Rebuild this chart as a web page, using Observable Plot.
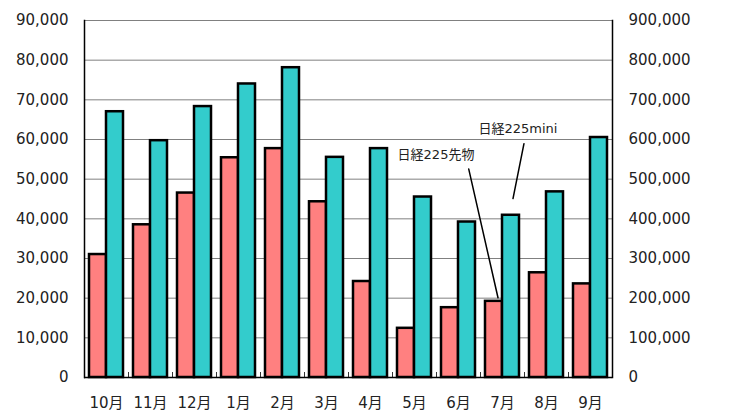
<!DOCTYPE html>
<html>
<head>
<meta charset="utf-8">
<script src="https://cdn.jsdelivr.net/npm/d3@7"></script>
<script src="https://cdn.jsdelivr.net/npm/@observablehq/plot@0.6"></script>
<style>
  body { margin: 0; background: #fff; }
</style>
</head>
<body>
<div id="chart"></div>
<script>
const months = ["10月","11月","12月","1月","2月","3月","4月","5月","6月","7月","8月","9月"];
const seriesNames = ["日経225先物", "日経225mini"];
const futures = [31000, 38500, 46500, 55400, 57700, 44300, 24200, 12400, 17600, 19200, 26400, 23600];
const mini = [670000, 597000, 683000, 740000, 781000, 555000, 577000, 455000, 392000, 409000, 468000, 605000];
const leftTicks = [0, 10000, 20000, 30000, 40000, 50000, 60000, 70000, 80000, 90000];
const ratio = 10; // right axis = left axis × 10

const rows = [];
months.forEach((m, i) => {
  rows.push({month: m, series: seriesNames[0], value: futures[i], y: futures[i]});
  rows.push({month: m, series: seriesNames[1], value: mini[i], y: mini[i] / ratio});
});

const annotations = [
  {month: "7月", series: seriesNames[0], label: "日経225先物"},
  {month: "7月", series: seriesNames[1], label: "日経225mini"}
];
const fut7 = futures[months.indexOf("7月")];
const mini7 = mini[months.indexOf("7月")] / ratio;

const fmt = d3.format(",");
const font = "'DejaVu Sans', Verdana, 'Noto Sans CJK JP', sans-serif";

const chart = Plot.plot({
  width: 737,
  height: 411,
  marginTop: 20,
  marginBottom: 34,
  marginLeft: 83,
  marginRight: 124,
  style: {fontFamily: font, fontSize: "15px", color: "#222", background: "#fff"},
  fx: {domain: months, padding: 0, label: null},
  x: {domain: seriesNames, paddingInner: 0, paddingOuter: 0.25, axis: null},
  y: {domain: [0, 90000], label: null},
  color: {domain: seriesNames, range: ["#FF8080", "#33CCCC"]},
  marks: [
    Plot.gridY(leftTicks, {stroke: "#808080", strokeOpacity: 1, strokeWidth: 1}),
    Plot.barY(rows, {fx: "month", x: "series", y: "y", fill: "series", stroke: "black", strokeWidth: 2.5}),
    // small category separator ticks on the baseline
    Plot.frame({anchor: "left", insetTop: 352, stroke: "#333", strokeWidth: 1}),
    Plot.ruleY([0], {stroke: "black", strokeWidth: 1.5}),
    Plot.frame({anchor: "left", facetAnchor: "left", stroke: "black", strokeWidth: 1.5}),
    Plot.frame({anchor: "right", facetAnchor: "right", stroke: "black", strokeWidth: 1.5}),
    Plot.axisY(leftTicks, {anchor: "left", tickSize: 0, tickPadding: 16, tickFormat: fmt, label: null, fill: "#222"}),
    Plot.axisY(leftTicks, {anchor: "right", tickSize: 0, tickPadding: 16, tickFormat: d => fmt(d * ratio), label: null, fill: "#222"}),
    Plot.axisFx({anchor: "bottom", tickSize: 0, tickPadding: 20, label: null, fill: "#222"}),
    // leader lines
    Plot.vector([annotations[0]], {fx: "month", x: "series", y: () => fut7 + 900, dx: 4, anchor: "start",
      rotate: -12.8, length: 132, shape: "arrow", r: 0, stroke: "black", strokeWidth: 1.5}),
    Plot.vector([annotations[1]], {fx: "month", x: "series", y: () => mini7 + 4200, dx: 2, anchor: "start",
      rotate: 11.3, length: 56, shape: "arrow", r: 0, stroke: "black", strokeWidth: 1.5}),
    // labels
    Plot.text([annotations[0]], {fx: "month", x: "series", y: () => 56200, dx: -58, text: "label", fontSize: 13, fill: "#222"}),
    Plot.text([annotations[1]], {fx: "month", x: "series", y: () => 62800, dx: 7, text: "label", fontSize: 13, fill: "#222"})
  ]
});
document.getElementById("chart").appendChild(chart);
</script>
</body>
</html>
